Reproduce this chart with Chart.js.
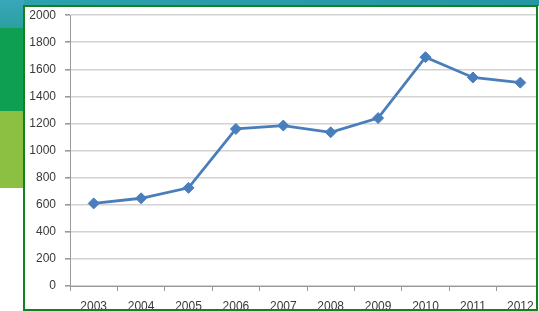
<!DOCTYPE html>
<html>
<head>
<meta charset="utf-8">
<script src="https://cdn.jsdelivr.net/npm/chart.js@4.4.0/dist/chart.umd.min.js"></script>
<style>
  html, body { margin: 0; padding: 0; }
  body { width: 539px; height: 311px; position: relative; overflow: hidden; background: #ffffff; }
  .bgTop { position: absolute; left: 0; top: 0; width: 539px; height: 6px; background: linear-gradient(90deg, #2ba2ad, #2596a3); }
  .bgTeal { position: absolute; left: 0; top: 0; width: 24px; height: 28px; background: linear-gradient(180deg, #3aa6bb, #2aa0a0); }
  .bgGreen { position: absolute; left: 0; top: 28px; width: 24px; height: 83px; background: #0f9f52; }
  .bgLight { position: absolute; left: 0; top: 111px; width: 24px; height: 77px; background: #8cc043; }
  .panel { position: absolute; left: 23px; top: 5px; width: 515px; height: 306px; box-sizing: border-box;
           border: 2px solid #14801e; background: #ffffff; overflow: hidden; }
  .wrap { position: absolute; left: 0; top: -8px; width: 526px; height: 312px; }
</style>
</head>
<body>
<div class="bgTop"></div>
<div class="bgTeal"></div>
<div class="bgGreen"></div>
<div class="bgLight"></div>
<div class="panel"><div class="wrap"><canvas id="c"></canvas></div></div>
<script>
const categories = ['2003','2004','2005','2006','2007','2008','2009','2010','2011','2012'];
const values = [610, 648, 725, 1160, 1185, 1135, 1240, 1690, 1540, 1502];
const yTicks = [0, 200, 400, 600, 800, 1000, 1200, 1400, 1600, 1800, 2000];

const font = { family: 'Liberation Sans', size: 12 };

new Chart(document.getElementById('c'), {
  type: 'line',
  data: {
    labels: categories,
    datasets: [{
      data: values,
      borderColor: '#4a7ebb',
      backgroundColor: '#4a7ebb',
      borderWidth: 2.8,
      pointStyle: 'rectRot',
      pointRadius: 5.5,
      pointHoverRadius: 5.5,
      pointBorderWidth: 1,
      tension: 0,
      fill: false
    }]
  },
  options: {
    responsive: true,
    maintainAspectRatio: false,
    animation: false,
    events: [],
    layout: { padding: { top: 0, right: 7, left: 0, bottom: 0 } },
    plugins: { legend: { display: false }, tooltip: { enabled: false } },
    scales: {
      x: {
        type: 'category',
        offset: true,
        grid: { display: true, drawOnChartArea: false, offset: true, tickLength: 5, color: '#9a9a9a', lineWidth: 1 },
        border: { display: true, color: '#9a9a9a', width: 1 },
        ticks: { font: font, color: '#3a3a3a', padding: 8, maxRotation: 0, autoSkip: false },
        afterFit: function(s) { s.height = 25; }
      },
      y: {
        min: 0, max: 2000,
        afterBuildTicks: function(s) { s.ticks = yTicks.map(v => ({ value: v })); },
        grid: { color: '#d2d2d2', lineWidth: 1.6, tickLength: 5, tickColor: '#9a9a9a' },
        border: { display: true, color: '#9a9a9a', width: 1 },
        ticks: { font: font, color: '#3a3a3a', padding: 9, callback: function(v) { return String(v); } },
        afterFit: function(s) { s.width = 45; }
      }
    }
  }
});
</script>
</body>
</html>
